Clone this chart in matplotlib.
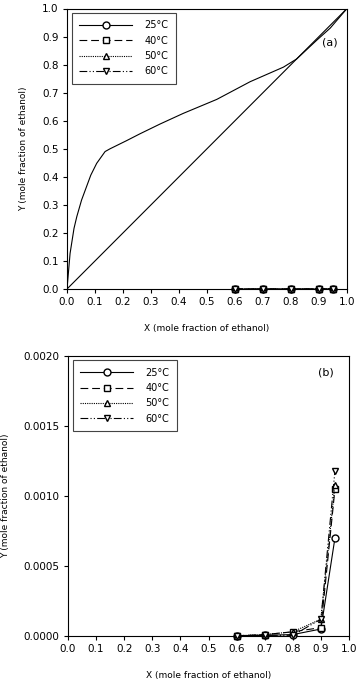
import matplotlib.pyplot as plt

plt.rcParams['font.family'] = ['DejaVu Sans']

# equilibrium curve, panel (a)
eq_x = [0.0, 0.011, 0.025, 0.035, 0.052, 0.085, 0.106, 0.136, 0.154, 0.213, 0.26,
        0.332, 0.415, 0.535, 0.654, 0.773, 0.82, 0.892, 0.94, 1.0]
eq_y = [0.0, 0.127, 0.216, 0.258, 0.317, 0.406, 0.448, 0.49, 0.50, 0.529, 0.553,
        0.588, 0.626, 0.676, 0.739, 0.791, 0.82, 0.887, 0.93, 1.0]
diag = [0.0, 1.0]

# measured data, both panels
x_data = [0.6, 0.7, 0.8, 0.9, 0.95]
y_25 = [0.000002, 0.000005, 0.00001, 0.00005, 0.00070]
y_40 = [0.000002, 0.00001, 0.00003, 0.00006, 0.00105]
y_50 = [0.000002, 0.00001, 0.00003, 0.00012, 0.00108]
y_60 = [0.000002, 0.000005, 0.000005, 0.00012, 0.00118]

series = [
    ("25°C", y_25, '-', 'o'),
    ("40°C", y_40, (0, (7, 3.5)), 's'),
    ("50°C", y_50, (0, (1, 1)), '^'),
    ("60°C", y_60, (0, (7, 2, 1, 2, 1, 2)), 'v'),
]

fig = plt.figure(figsize=(3.58, 6.86), dpi=100)
W, H = 358, 686
ax1 = fig.add_axes([67 / W, 1 - 289 / H, 280 / W, 280.5 / H])
ax2 = fig.add_axes([68 / W, 1 - 636 / H, 281 / W, 280 / H])


def draw(ax):
    for lab, ys, ls, mk in series:
        ax.plot(x_data, ys, linestyle=ls, marker=mk, color='black', lw=0.8,
                mfc='white', mec='black', ms=5, mew=1.0, label=lab, clip_on=False, zorder=3)
    leg = ax.legend(loc='upper left', fontsize=7, handlelength=5.4, handletextpad=1.3,
                    fancybox=False, edgecolor='#444444', framealpha=1, borderpad=0.75,
                    labelspacing=0.55, borderaxespad=0, bbox_to_anchor=(0.018, 0.984))
    leg.get_frame().set_linewidth(0.8)
    ax.set_xlim(0, 1)
    ax.set_xticks([i / 10 for i in range(11)])
    ax.tick_params(labelsize=7.5, width=0.8, length=3, direction='out', pad=3)
    ax.set_xlabel("X (mole fraction of ethanol)", fontsize=6.5, labelpad=12)
    ax.set_ylabel("Y (mole fraction of ethanol)", fontsize=6.5, labelpad=10)
    for s in ax.spines.values():
        s.set_linewidth(0.8)


ax1.plot(eq_x, eq_y, color='black', lw=0.8)
ax1.plot(diag, diag, color='black', lw=0.8)
draw(ax1)
ax1.set_ylim(0, 1)
ax1.set_yticks([i / 10 for i in range(11)])
ax1.set_xticklabels([f"{i / 10:.1f}" for i in range(11)])
ax1.set_yticklabels([f"{i / 10:.1f}" for i in range(11)])
ax1.text(0.965, 0.88, "(a)", fontsize=8, ha='right', va='center')

draw(ax2)
ax2.set_ylim(0, 0.002)
yt = [0, 0.0005, 0.001, 0.0015, 0.002]
ax2.set_yticks(yt)
ax2.set_yticklabels([f"{v:.4f}" for v in yt])
ax2.set_xticklabels([f"{i / 10:.1f}" for i in range(11)])
ax2.text(0.945, 0.00188, "(b)", fontsize=8, ha='right', va='center')

fig.savefig("out.png", dpi=100)
